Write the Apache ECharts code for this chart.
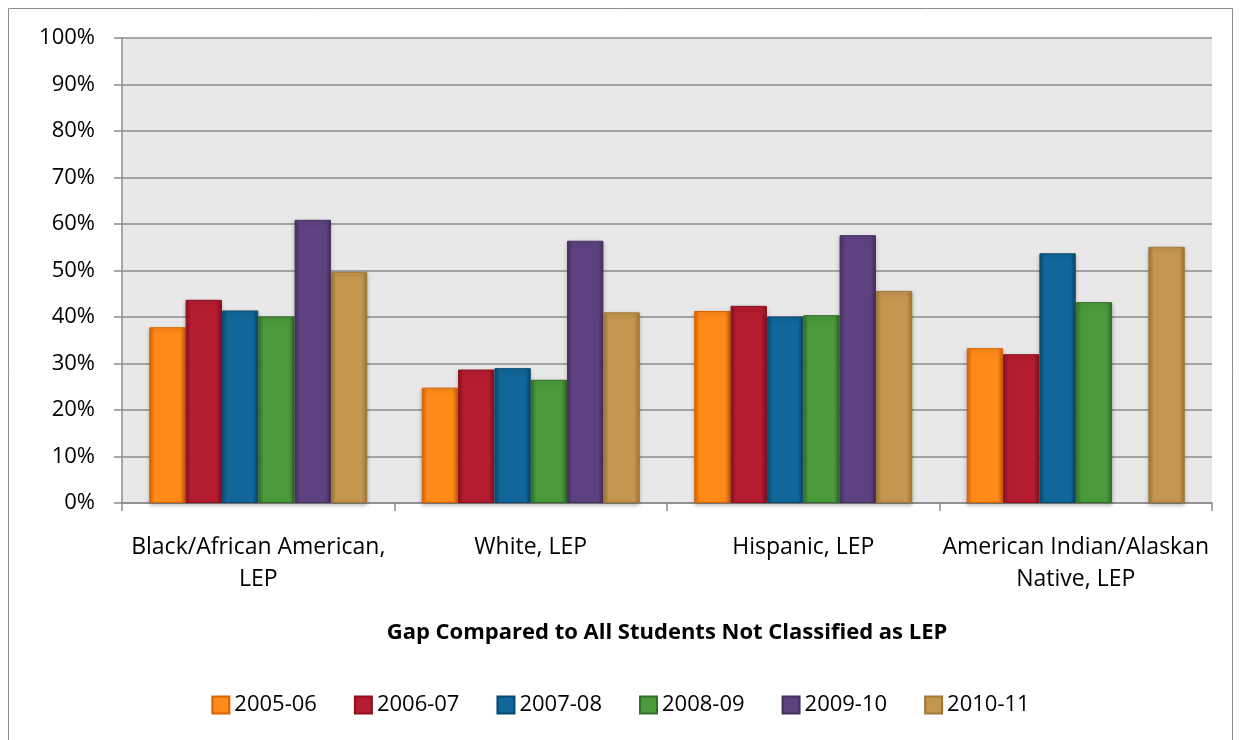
<!DOCTYPE html>
<html>
<head>
<meta charset="utf-8">
<script src="https://cdn.jsdelivr.net/npm/echarts@6/dist/echarts.min.js"></script>
<style>
  html, body { margin: 0; padding: 0; background: #fff; }
  #chart { width: 1241px; height: 740px; }
</style>
</head>
<body>
<div id="chart"></div>
<script>
// categories and series
const categories = ['Black/African American,\nLEP', 'White, LEP', 'Hispanic, LEP', 'American Indian/Alaskan\nNative, LEP']
const years = ['2005-06', '2006-07', '2007-08', '2008-09', '2009-10', '2010-11']
const v2005 = [0.378, 0.248, 0.413, 0.333]
const v2006 = [0.437, 0.287, 0.424, 0.320]
const v2007 = [0.414, 0.290, 0.401, 0.537]
const v2008 = [0.401, 0.265, 0.404, 0.432]
const v2009 = [0.609, 0.564, 0.576, null]
const v2010 = [0.497, 0.410, 0.456, 0.551]
const yearValues = [v2005, v2006, v2007, v2008, v2009, v2010]

// light / dark pairs for the bevel look
const colors = [
  ['#ff8a1a', '#d86400'],
  ['#b51c30', '#8c1020'],
  ['#11679a', '#0a4a70'],
  ['#4a9a3c', '#336f28'],
  ['#5e4280', '#46305f'],
  ['#c4964f', '#a07838'],
]

const FONT = 'Open Sans'

const chart = echarts.init(document.getElementById('chart'))

const grad = (c) => new echarts.graphic.LinearGradient(0, 0, 1, 0, [
  { offset: 0, color: c[1] },
  { offset: 0.15, color: c[0] },
  { offset: 0.85, color: c[0] },
  { offset: 1, color: c[1] },
])

chart.setOption({
  animation: false,
  textStyle: { fontFamily: FONT },
  graphic: [{
    type: 'rect',
    shape: { x: 8.5, y: 8.5, width: 1224, height: 760 },
    style: { fill: 'none', stroke: '#8c8c8c', lineWidth: 1 },
    silent: true,
  }],
  grid: {
    left: 122, top: 38, right: 29, bottom: 237,
    show: true, backgroundColor: '#e8e8e8', borderWidth: 0,
  },
  legend: {
    bottom: 19,
    left: 'center',
    itemWidth: 17,
    itemHeight: 17,
    itemGap: 37,
    itemTextGap: 6,
    icon: 'rect',
    textStyle: { fontSize: 22, color: '#000', fontFamily: FONT },
    data: years,
  },
  xAxis: {
    type: 'category',
    data: categories,
    axisLine: { lineStyle: { color: '#8c8c8c', width: 1.5 } },
    axisTick: { show: true, alignWithLabel: false, interval: 0, length: 8, lineStyle: { color: '#8c8c8c', width: 1.5 } },
    axisLabel: { fontSize: 23, color: '#000', margin: 28, lineHeight: 32, interval: 0, fontFamily: FONT },
    name: 'Gap Compared to All Students Not Classified as LEP',
    nameLocation: 'middle',
    nameGap: 119,
    nameTextStyle: { fontSize: 22, fontWeight: 'bold', color: '#000', fontFamily: FONT },
  },
  yAxis: {
    type: 'value',
    min: 0,
    max: 1,
    interval: 0.1,
    axisLine: { show: true, lineStyle: { color: '#8c8c8c', width: 1.5 } },
    axisTick: { show: true, length: 8, lineStyle: { color: '#8c8c8c', width: 1.5 } },
    axisLabel: {
      fontSize: 22, color: '#000', margin: 27, fontFamily: FONT,
      formatter: (v) => Math.round(v * 100) + '%',
    },
    splitLine: { lineStyle: { color: '#8c8c8c', width: 1.5 } },
  },
  series: years.map((y, i) => ({
    name: y,
    type: 'bar',
    data: yearValues[i],
    barGap: '0%',
    barCategoryGap: '20%',
    itemStyle: {
      color: grad(colors[i]),
      borderColor: colors[i][1],
      borderWidth: 1,
      shadowColor: 'rgba(0,0,0,0.25)',
      shadowBlur: 4,
      shadowOffsetY: 2,
    },
  })),
})
</script>
</body>
</html>
